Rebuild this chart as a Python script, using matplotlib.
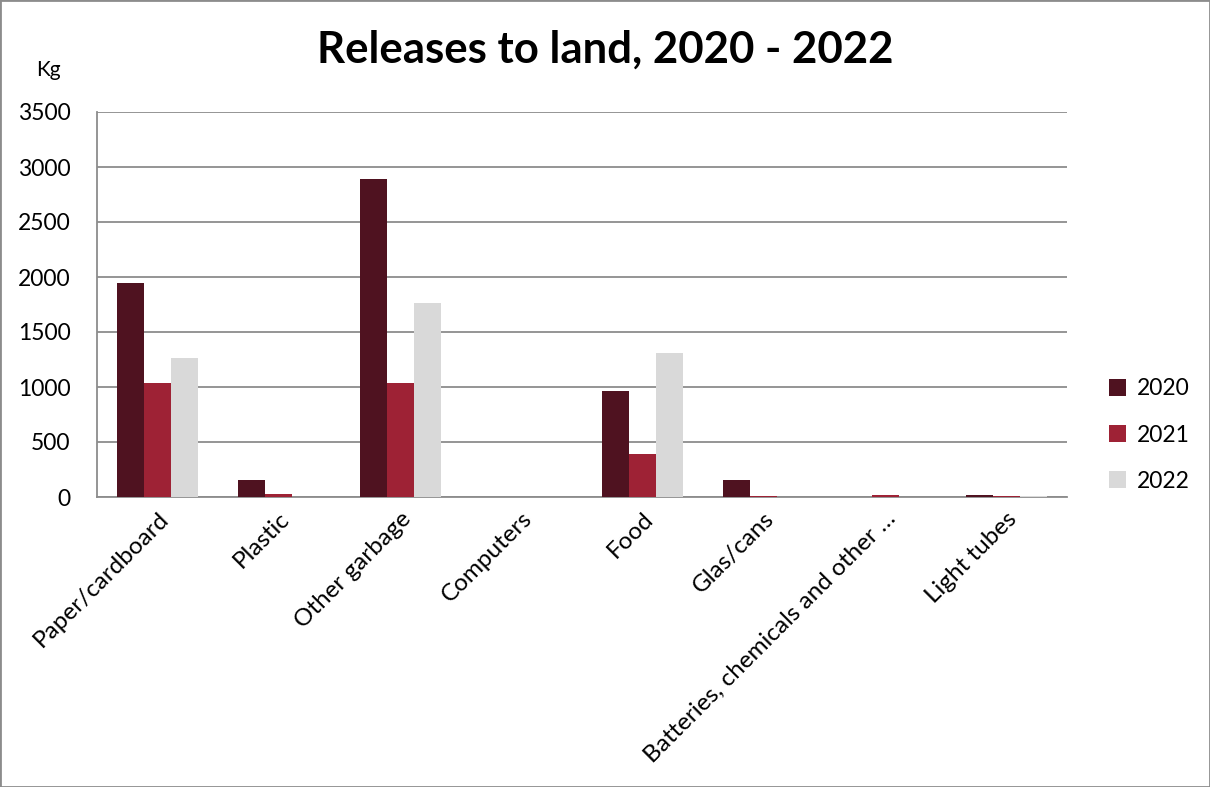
import numpy as np
import matplotlib.pyplot as plt
from matplotlib.patches import Rectangle

# 各類廢棄物排放至土地的數量（公斤）
categories = ["Paper/cardboard", "Plastic", "Other garbage", "Computers", "Food",
              "Glas/cans", "Batteries, chemicals and other …", "Light tubes"]
years = ["2020", "2021", "2022"]
kg_2020 = [1950, 155, 2890, 0, 965, 155, 0, 20]
kg_2021 = [1040, 30, 1040, 0, 390, 10, 20, 8]
kg_2022 = [1260, 0, 1765, 0, 1310, 0, 0, 5]
colors = ["#4F1220", "#9E2235", "#D9D9D9"]

plt.rcParams['font.family'] = ['Lato', 'DejaVu Sans']

fig = plt.figure(figsize=(12.1, 7.87), dpi=100)
ax = fig.add_axes([97/1210, 1 - 497/787, 970/1210, 385/787])

x = np.arange(len(categories))
w = 0.222
for i, (vals, c, lab) in enumerate(zip([kg_2020, kg_2021, kg_2022], colors, years)):
    ax.bar(x + (i - 1) * w, vals, width=w, color=c, label=lab, zorder=3)

ax.set_xlim(-0.5, len(categories) - 0.5)
ax.set_ylim(0, 3500)
ax.set_yticks(np.arange(0, 3501, 500))
ax.tick_params(axis='y', length=0, labelsize=16.5, pad=19)
ax.grid(axis='y', color='#8C8C8C', linewidth=1.3, zorder=0)

# x 軸類別標籤，旋轉 45 度
ax.set_xticks(x)
ax.set_xticklabels(categories, rotation=45, ha='right', rotation_mode='anchor', fontsize=17.5)
ax.tick_params(axis='x', length=0, pad=8)

for s in ['top', 'right']:
    ax.spines[s].set_visible(False)
for s in ['left', 'bottom']:
    ax.spines[s].set_color('#8C8C8C')
    ax.spines[s].set_linewidth(1.3)

fig.text(605/1210, 1 - 50/787, "Releases to land, 2020 - 2022", ha='center', va='center',
         fontsize=31.5, fontweight='bold')
fig.text(48/1210, 1 - 70/787, "Kg", ha='center', va='center', fontsize=15)

ax.legend(loc='center left', bbox_to_anchor=(1.022, 0.161), frameon=False, fontsize=16.5,
          handlelength=0.75, handleheight=0.75, labelspacing=1.1, handletextpad=0.45)

# 外框
fig.patches.append(Rectangle((0, 0), 1, 1, transform=fig.transFigure, fill=False,
                             edgecolor='#8C8C8C', linewidth=2))

plt.savefig("out.png", dpi=100)
